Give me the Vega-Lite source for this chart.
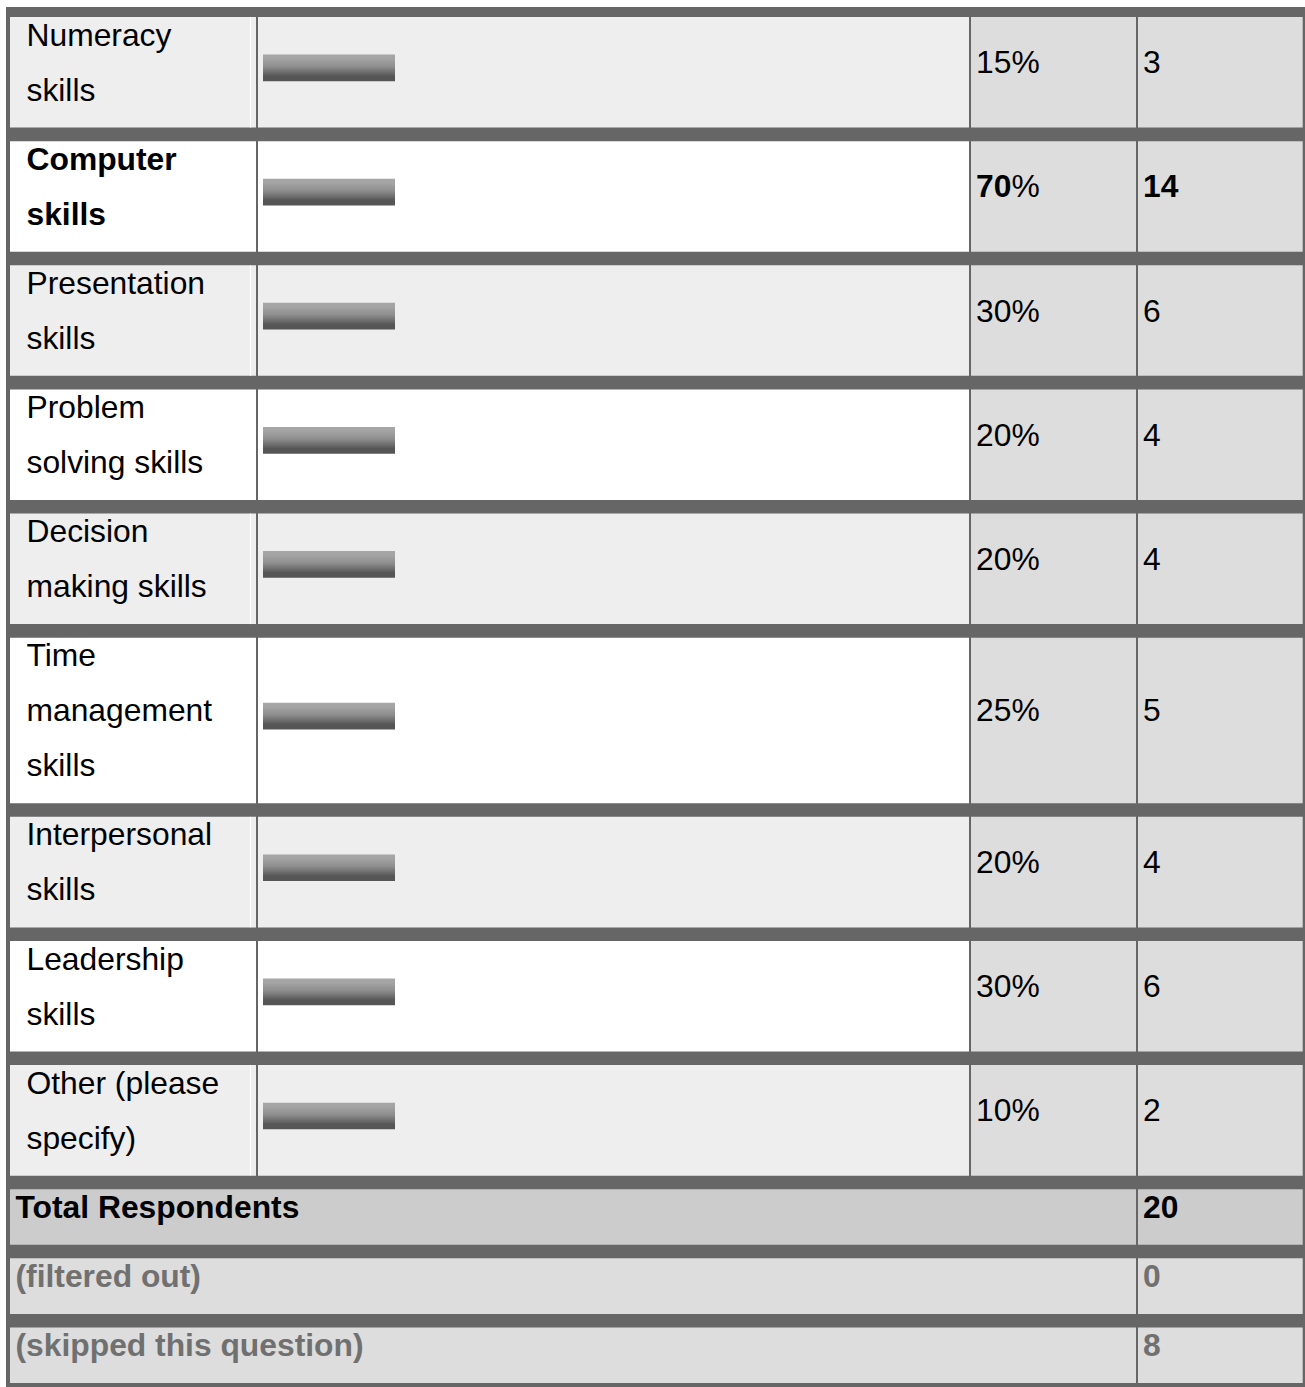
{
  "$schema": "https://vega.github.io/schema/vega-lite/v6.json",
  "width": 1299,
  "height": 1380,
  "autosize": {"type": "none"},
  "padding": {"left": 6, "top": 7, "right": 0, "bottom": 0},
  "background": "#ffffff",
  "config": {
    "view": {"fill": "#666666", "stroke": null},
    "axis": {"disable": true},
    "text": {"font": "Liberation Sans", "fontSize": 31.8, "align": "left", "baseline": "alphabetic"}
  },
  "data": {
    "values": [
      {"order": 1, "label": "Numeracy\nskills", "pct": 15, "count": 3, "kind": "skill", "highlight": false},
      {"order": 2, "label": "Computer\nskills", "pct": 70, "count": 14, "kind": "skill", "highlight": true},
      {"order": 3, "label": "Presentation\nskills", "pct": 30, "count": 6, "kind": "skill", "highlight": false},
      {"order": 4, "label": "Problem\nsolving skills", "pct": 20, "count": 4, "kind": "skill", "highlight": false},
      {"order": 5, "label": "Decision\nmaking skills", "pct": 20, "count": 4, "kind": "skill", "highlight": false},
      {"order": 6, "label": "Time\nmanagement\nskills", "pct": 25, "count": 5, "kind": "skill", "highlight": false},
      {"order": 7, "label": "Interpersonal\nskills", "pct": 20, "count": 4, "kind": "skill", "highlight": false},
      {"order": 8, "label": "Leadership\nskills", "pct": 30, "count": 6, "kind": "skill", "highlight": false},
      {"order": 9, "label": "Other (please\nspecify)", "pct": 10, "count": 2, "kind": "skill", "highlight": false},
      {"order": 10, "label": "Total Respondents", "count": 20, "kind": "total", "highlight": false},
      {"order": 11, "label": "(filtered out)", "count": 0, "kind": "filtered", "highlight": false},
      {"order": 12, "label": "(skipped this question)", "count": 8, "kind": "skipped", "highlight": false}
    ]
  },
  "transform": [
    {"calculate": "length(split(datum.label, '\\n'))", "as": "lines"},
    {"calculate": "55 * datum.lines + 0.6 + 13.53", "as": "step"},
    {"window": [{"op": "sum", "field": "step", "as": "cum"}], "sort": [{"field": "order", "order": "ascending"}], "frame": [null, 0]},
    {"calculate": "17 + datum.cum - datum.step", "as": "top"},
    {"calculate": "datum.top + 55 * datum.lines + 0.6", "as": "bottom"},
    {"calculate": "(datum.top + datum.bottom) / 2", "as": "mid"},
    {"calculate": "datum.mid + 1", "as": "valueY"},
    {"calculate": "datum.top + 28.7", "as": "labelY"},
    {"calculate": "datum.mid - 17.7", "as": "barTop"},
    {"calculate": "datum.mid + 9", "as": "barBottom"}
  ],
  "layer": [
    {
      "transform": [{"filter": "datum.kind == 'skill'"}],
      "mark": {"type": "rect"},
      "encoding": {
        "x": {"datum": 10, "type": "quantitative", "scale": {"domain": [6, 1305], "nice": false, "zero": false}},
        "x2": {"datum": 256},
        "y": {"field": "top", "type": "quantitative", "scale": {"domain": [7, 1387], "nice": false, "zero": false, "reverse": true}},
        "y2": {"field": "bottom"},
        "fill": {"condition": {"test": "datum.order % 2 == 1", "value": "#eeeeee"}, "value": "#ffffff"}
      }
    },
    {
      "transform": [{"filter": "datum.kind == 'skill'"}],
      "mark": {"type": "rect"},
      "encoding": {
        "x": {"datum": 258, "type": "quantitative", "scale": {"domain": [6, 1305], "nice": false, "zero": false}},
        "x2": {"datum": 969},
        "y": {"field": "top", "type": "quantitative", "scale": {"domain": [7, 1387], "nice": false, "zero": false, "reverse": true}},
        "y2": {"field": "bottom"},
        "fill": {"condition": {"test": "datum.order % 2 == 1", "value": "#eeeeee"}, "value": "#ffffff"}
      }
    },
    {
      "transform": [{"filter": "datum.kind == 'skill'"}],
      "mark": {"type": "rect", "fill": "#dddddd"},
      "encoding": {
        "x": {"datum": 971, "type": "quantitative", "scale": {"domain": [6, 1305], "nice": false, "zero": false}},
        "x2": {"datum": 1136},
        "y": {"field": "top", "type": "quantitative", "scale": {"domain": [7, 1387], "nice": false, "zero": false, "reverse": true}},
        "y2": {"field": "bottom"}
      }
    },
    {
      "mark": {"type": "rect"},
      "encoding": {
        "x": {"datum": 1138, "type": "quantitative", "scale": {"domain": [6, 1305], "nice": false, "zero": false}},
        "x2": {"datum": 1302.7},
        "y": {"field": "top", "type": "quantitative", "scale": {"domain": [7, 1387], "nice": false, "zero": false, "reverse": true}},
        "y2": {"field": "bottom"},
        "fill": {"condition": {"test": "datum.kind == 'total'", "value": "#cccccc"}, "value": "#dddddd"}
      }
    },
    {
      "transform": [{"filter": "datum.kind != 'skill'"}],
      "mark": {"type": "rect"},
      "encoding": {
        "x": {"datum": 10, "type": "quantitative", "scale": {"domain": [6, 1305], "nice": false, "zero": false}},
        "x2": {"datum": 1136},
        "y": {"field": "top", "type": "quantitative", "scale": {"domain": [7, 1387], "nice": false, "zero": false, "reverse": true}},
        "y2": {"field": "bottom"},
        "fill": {"condition": {"test": "datum.kind == 'total'", "value": "#cccccc"}, "value": "#dddddd"}
      }
    },
    {
      "transform": [{"filter": "datum.kind == 'skill' && datum.order % 2 == 1"}],
      "mark": {"type": "rule", "stroke": "#ffffff", "strokeWidth": 1},
      "encoding": {
        "x": {"datum": 250.5, "type": "quantitative", "scale": {"domain": [6, 1305], "nice": false, "zero": false}},
        "y": {"field": "top", "type": "quantitative", "scale": {"domain": [7, 1387], "nice": false, "zero": false, "reverse": true}},
        "y2": {"field": "bottom"}
      }
    },
    {
      "transform": [{"filter": "datum.kind == 'skill'"}],
      "mark": {
        "type": "rect",
        "fill": {
          "x1": 0, "y1": 0, "x2": 0, "y2": 1, "gradient": "linear",
          "stops": [
            {"offset": 0, "color": "#a7a7a7"},
            {"offset": 0.15, "color": "#a4a4a4"},
            {"offset": 0.45, "color": "#8e8e8e"},
            {"offset": 0.75, "color": "#606060"},
            {"offset": 0.8, "color": "#565656"},
            {"offset": 1, "color": "#555555"}
          ]
        }
      },
      "encoding": {
        "x": {"datum": 263, "type": "quantitative", "scale": {"domain": [6, 1305], "nice": false, "zero": false}},
        "x2": {"datum": 395},
        "y": {"field": "barTop", "type": "quantitative", "scale": {"domain": [7, 1387], "nice": false, "zero": false, "reverse": true}},
        "y2": {"field": "barBottom"}
      }
    },
    {
      "transform": [{"filter": "datum.kind == 'skill' && !datum.highlight"}],
      "mark": {"type": "text", "lineBreak": "\n", "lineHeight": 55, "color": "#000000"},
      "encoding": {
        "x": {"datum": 26.5, "type": "quantitative", "scale": {"domain": [6, 1305], "nice": false, "zero": false}},
        "y": {"field": "labelY", "type": "quantitative", "scale": {"domain": [7, 1387], "nice": false, "zero": false, "reverse": true}},
        "text": {"field": "label", "type": "nominal"}
      }
    },
    {
      "transform": [{"filter": "datum.kind == 'skill' && datum.highlight"}],
      "mark": {"type": "text", "lineBreak": "\n", "lineHeight": 55, "fontWeight": "bold", "color": "#000000"},
      "encoding": {
        "x": {"datum": 26.5, "type": "quantitative", "scale": {"domain": [6, 1305], "nice": false, "zero": false}},
        "y": {"field": "labelY", "type": "quantitative", "scale": {"domain": [7, 1387], "nice": false, "zero": false, "reverse": true}},
        "text": {"field": "label", "type": "nominal"}
      }
    },
    {
      "transform": [{"filter": "datum.kind != 'skill'"}],
      "mark": {"type": "text", "fontWeight": "bold"},
      "encoding": {
        "x": {"datum": 15.5, "type": "quantitative", "scale": {"domain": [6, 1305], "nice": false, "zero": false}},
        "y": {"field": "labelY", "type": "quantitative", "scale": {"domain": [7, 1387], "nice": false, "zero": false, "reverse": true}},
        "text": {"field": "label", "type": "nominal"},
        "color": {"condition": {"test": "datum.kind == 'total'", "value": "#000000"}, "value": "#707070"}
      }
    },
    {
      "transform": [{"filter": "datum.kind == 'skill' && !datum.highlight"}],
      "mark": {"type": "text", "color": "#000000"},
      "encoding": {
        "x": {"datum": 976, "type": "quantitative", "scale": {"domain": [6, 1305], "nice": false, "zero": false}},
        "y": {"field": "valueY", "type": "quantitative", "scale": {"domain": [7, 1387], "nice": false, "zero": false, "reverse": true}},
        "text": {"field": "pct", "type": "nominal"}
      }
    },
    {
      "transform": [{"filter": "datum.kind == 'skill' && datum.highlight"}],
      "mark": {"type": "text", "fontWeight": "bold", "color": "#000000"},
      "encoding": {
        "x": {"datum": 976, "type": "quantitative", "scale": {"domain": [6, 1305], "nice": false, "zero": false}},
        "y": {"field": "valueY", "type": "quantitative", "scale": {"domain": [7, 1387], "nice": false, "zero": false, "reverse": true}},
        "text": {"field": "pct", "type": "nominal"}
      }
    },
    {
      "transform": [{"filter": "datum.kind == 'skill'"}],
      "mark": {"type": "text", "color": "#000000"},
      "encoding": {
        "x": {"datum": 1011.4, "type": "quantitative", "scale": {"domain": [6, 1305], "nice": false, "zero": false}},
        "y": {"field": "valueY", "type": "quantitative", "scale": {"domain": [7, 1387], "nice": false, "zero": false, "reverse": true}},
        "text": {"value": "%"}
      }
    },
    {
      "transform": [{"filter": "datum.kind == 'skill' && !datum.highlight"}],
      "mark": {"type": "text", "color": "#000000"},
      "encoding": {
        "x": {"datum": 1143, "type": "quantitative", "scale": {"domain": [6, 1305], "nice": false, "zero": false}},
        "y": {"field": "valueY", "type": "quantitative", "scale": {"domain": [7, 1387], "nice": false, "zero": false, "reverse": true}},
        "text": {"field": "count", "type": "nominal"}
      }
    },
    {
      "transform": [{"filter": "datum.kind != 'skill' || datum.highlight"}],
      "mark": {"type": "text", "fontWeight": "bold"},
      "encoding": {
        "x": {"datum": 1143, "type": "quantitative", "scale": {"domain": [6, 1305], "nice": false, "zero": false}},
        "y": {"field": "valueY", "type": "quantitative", "scale": {"domain": [7, 1387], "nice": false, "zero": false, "reverse": true}},
        "text": {"field": "count", "type": "nominal"},
        "color": {"condition": {"test": "datum.kind == 'filtered' || datum.kind == 'skipped'", "value": "#707070"}, "value": "#000000"}
      }
    }
  ]
}
